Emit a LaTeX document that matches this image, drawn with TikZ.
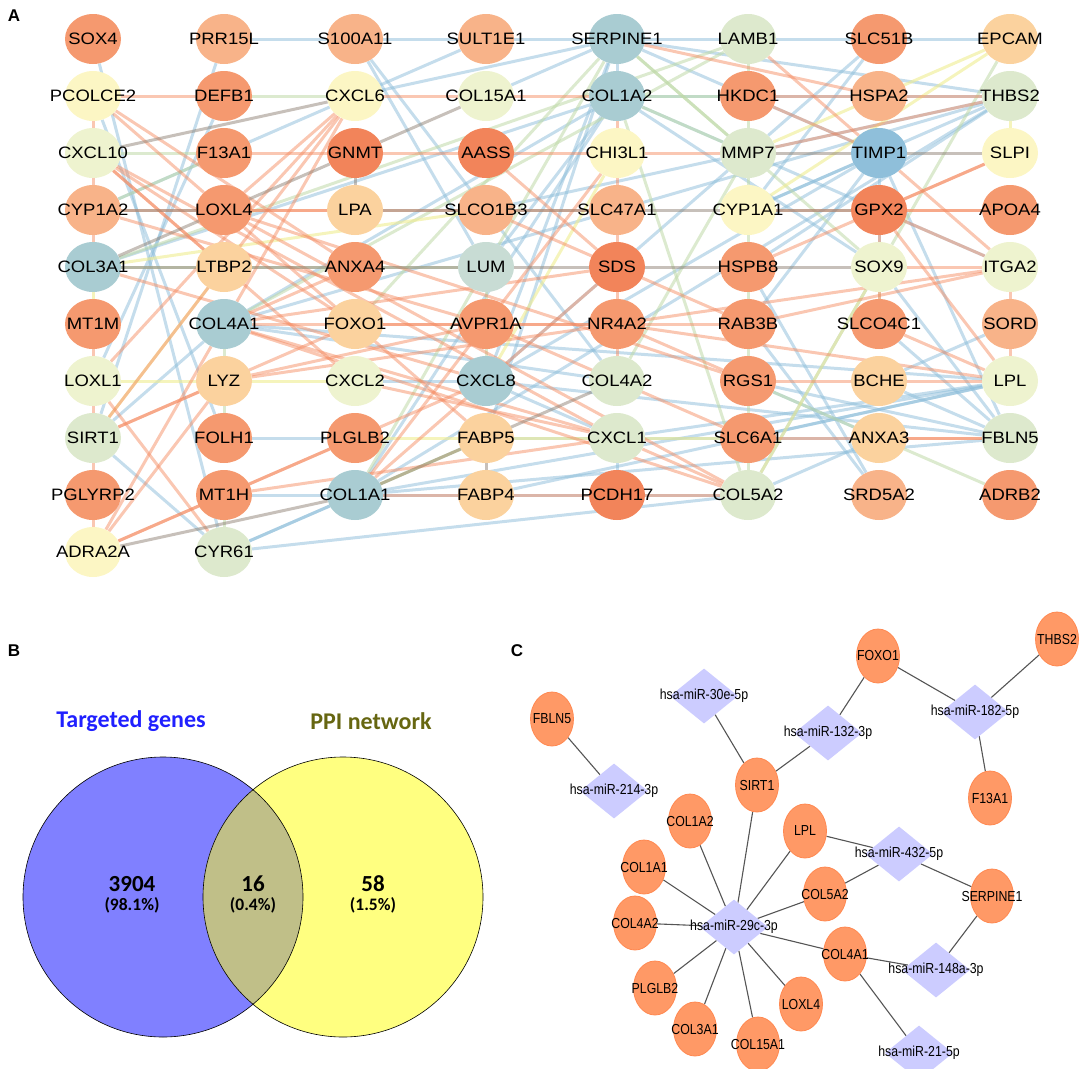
\documentclass[tikz,border=0pt]{standalone}
\usepackage{fontspec}
\setmainfont{Liberation Sans}
\newfontfamily\netfont[FakeStretch=1.12]{Liberation Sans}
\newfontfamily\mirfont[FakeStretch=0.85]{Liberation Sans}
\newfontfamily\vennfont{Carlito}
\usetikzlibrary{shapes.geometric,backgrounds}

% Colores de los nodos
\definecolor{naoscuro}{HTML}{F2845A}
\definecolor{naranja}{HTML}{F5996F}
\definecolor{naclaro}{HTML}{F8B389}
\definecolor{melocoton}{HTML}{FBD29E}
\definecolor{amarillo}{HTML}{FCF6C4}
\definecolor{verdeam}{HTML}{EEF3CF}
\definecolor{verde}{HTML}{DDE9CD}
\definecolor{gristeal}{HTML}{C8DCD4}
\definecolor{teal}{HTML}{A9CCD2}
\definecolor{azul}{HTML}{8FBFDA}
% Colores de las aristas
\definecolor{lnaranja}{HTML}{F4895F}
\definecolor{lazul}{HTML}{8BBCD9}
\definecolor{lverde}{HTML}{BFD9A8}
\definecolor{lamarillo}{HTML}{EFEC90}
\definecolor{lgris}{HTML}{8F8275}
% Panel B y C
\definecolor{vazul}{HTML}{8080FF}
\definecolor{vamarillo}{HTML}{FFFF80}
\definecolor{vlente}{HTML}{C0BF88}
\definecolor{txtazul}{HTML}{2020FF}
\definecolor{txtoliva}{HTML}{666611}
\definecolor{cnaranja}{HTML}{FF9966}
\definecolor{cborde}{HTML}{FF8850}
\definecolor{lila}{HTML}{CCCCFF}
\definecolor{enlacegris}{HTML}{555555}

\tikzset{
  gen/.style={ellipse, minimum width=56pt, minimum height=50pt, inner sep=0pt},
  gentxt/.style={font=\netfont\fontsize{16.5}{16.5}\selectfont, inner sep=0pt},
  lnor/.style={line width=3pt, draw=lnaranja, opacity=0.48},
  lnbl/.style={line width=3pt, draw=lazul, opacity=0.5},
  lngr/.style={line width=3pt, draw=lverde, opacity=0.55},
  lnye/.style={line width=3pt, draw=lamarillo, opacity=0.6},
  lngy/.style={line width=3pt, draw=lgris, opacity=0.5},
  gendos/.style={ellipse, minimum width=43pt, minimum height=54pt, inner sep=0pt,
    fill=cnaranja, draw=cborde, line width=0.8pt},
  mir/.style={diamond, minimum width=68pt, minimum height=55pt, inner sep=0pt, fill=lila},
  mirtxt/.style={font=\mirfont\fontsize{14.5}{14.5}\selectfont, inner sep=0pt},
  enlace/.style={draw=enlacegris, line width=1.1pt},
  panel/.style={font=\bfseries\fontsize{17}{17}\selectfont},
  vtitulo/.style={font=\vennfont\bfseries\fontsize{24}{24}\selectfont, inner sep=0pt},
  vnum/.style={font=\vennfont\bfseries\fontsize{23}{23}\selectfont, inner sep=0pt},
  vpct/.style={font=\vennfont\bfseries\fontsize{17.5}{17.5}\selectfont, inner sep=0pt},
}

\begin{document}
\begin{tikzpicture}[x=1pt, y=-1pt]

    \useasboundingbox (0,0) rectangle (1084,1068);

    % Etiquetas de los paneles
    \node[panel] (pA) at (14,16) {A};
    \node[panel] (pB) at (14,651) {B};
    \node[panel] (pC) at (517,651) {C};

    % Panel A: nodos por columna
    \foreach \g/\c [count=\r from 0] in {SOX4/naranja, PCOLCE2/amarillo, CXCL10/verdeam, CYP1A2/naclaro,
        COL3A1/teal, MT1M/naranja, LOXL1/verdeam, SIRT1/verde, PGLYRP2/naranja, ADRA2A/amarillo}
      \node[gen, fill=\c, label={[gentxt]center:\g}] (\g) at (93,{39+57*\r}) {};
    \foreach \g/\c [count=\r from 0] in {PRR15L/naclaro, DEFB1/naranja, F13A1/naranja, LOXL4/naranja,
        LTBP2/melocoton, COL4A1/teal, LYZ/melocoton, FOLH1/naranja, MT1H/naranja, CYR61/verde}
      \node[gen, fill=\c, label={[gentxt]center:\g}] (\g) at (224,{39+57*\r}) {};
    \foreach \g/\c [count=\r from 0] in {S100A11/naclaro, CXCL6/amarillo, GNMT/naoscuro, LPA/melocoton,
        ANXA4/naranja, FOXO1/melocoton, CXCL2/verdeam, PLGLB2/naranja, COL1A1/teal}
      \node[gen, fill=\c, label={[gentxt]center:\g}] (\g) at (355,{39+57*\r}) {};
    \foreach \g/\c [count=\r from 0] in {SULT1E1/naclaro, COL15A1/verdeam, AASS/naoscuro, SLCO1B3/naclaro,
        LUM/gristeal, AVPR1A/naranja, CXCL8/teal, FABP5/melocoton, FABP4/melocoton}
      \node[gen, fill=\c, label={[gentxt]center:\g}] (\g) at (486,{39+57*\r}) {};
    \foreach \g/\c [count=\r from 0] in {SERPINE1/teal, COL1A2/teal, CHI3L1/amarillo, SLC47A1/naclaro,
        SDS/naoscuro, NR4A2/naranja, COL4A2/verde, CXCL1/verde, PCDH17/naoscuro}
      \node[gen, fill=\c, label={[gentxt]center:\g}] (\g) at (617,{39+57*\r}) {};
    \foreach \g/\c [count=\r from 0] in {LAMB1/verde, HKDC1/naranja, MMP7/verde, CYP1A1/amarillo,
        HSPB8/naranja, RAB3B/naranja, RGS1/naranja, SLC6A1/naranja, COL5A2/verde}
      \node[gen, fill=\c, label={[gentxt]center:\g}] (\g) at (748,{39+57*\r}) {};
    \foreach \g/\c [count=\r from 0] in {SLC51B/naranja, HSPA2/naclaro, TIMP1/azul, GPX2/naoscuro,
        SOX9/verdeam, SLCO4C1/naranja, BCHE/melocoton, ANXA3/melocoton, SRD5A2/naclaro}
      \node[gen, fill=\c, label={[gentxt]center:\g}] (\g) at (879,{39+57*\r}) {};
    \foreach \g/\c [count=\r from 0] in {EPCAM/melocoton, THBS2/verde, SLPI/amarillo, APOA4/naranja,
        ITGA2/verdeam, SORD/naclaro, LPL/verdeam, FBLN5/verde, ADRB2/naranja}
      \node[gen, fill=\c, label={[gentxt]center:\g}] (\g) at (1010,{39+57*\r}) {};

    % Panel A: aristas
    \begin{scope}[on background layer]
    \foreach \a/\b in {SULT1E1/CXCL6, SLC51B/MMP7, SLC51B/CYP1A1, PRR15L/S100A11, S100A11/SULT1E1,
        SULT1E1/SERPINE1, SERPINE1/LAMB1, LAMB1/SLC51B, SLC51B/EPCAM, TIMP1/GPX2, GPX2/SOX9,
        SERPINE1/COL1A2, SOX4/CYR61, PRR15L/SIRT1, PCOLCE2/FOLH1, CYP1A2/CXCL6, DEFB1/LOXL1,
        S100A11/LUM, S100A11/COL4A2, COL1A2/LUM, SERPINE1/CXCL6, SERPINE1/COL15A1, SERPINE1/TIMP1,
        SERPINE1/THBS2, SERPINE1/CXCL8, SERPINE1/FABP5, COL1A2/COL3A1, COL1A2/COL1A1, COL1A2/COL4A1,
        COL1A2/THBS2, COL1A2/ITGA2, COL1A2/SOX9, COL4A1/COL4A2, CXCL8/CXCL1, CXCL8/CXCL2,
        CXCL8/TIMP1, CXCL8/MMP7, CXCL8/FBLN5, COL1A1/COL5A2, COL1A1/CYR61, COL1A1/FBLN5,
        COL1A1/THBS2, CYR61/COL5A2, CYR61/FABP5, CYR61/SIRT1, SIRT1/COL4A1, FOLH1/PLGLB2,
        MT1H/COL1A1, TIMP1/CYP1A1, TIMP1/RAB3B, TIMP1/FBLN5, THBS2/CYP1A1, THBS2/HSPB8,
        THBS2/MMP7, THBS2/COL4A1, SOX9/FBLN5, SOX9/COL5A2, SLCO4C1/FBLN5, BCHE/SORD, BCHE/FBLN5,
        RGS1/FBLN5, RGS1/ANXA3, SLC6A1/LPL, SLC6A1/ANXA3, SLC6A1/CXCL1, ANXA3/COL5A2,
        SRD5A2/HSPB8, SRD5A2/RAB3B, LPL/COL4A1, LPL/CXCL1, LPL/COL1A1, FABP5/CXCL1, FABP4/LPL,
        PCDH17/CXCL1, MMP7/SLCO1B3}
      \draw[lnbl] (\a) -- (\b);
    \foreach \a/\b in {DEFB1/CXCL6, COL1A2/HKDC1, CXCL10/F13A1, COL4A1/LYZ, LYZ/FOLH1, MT1H/CYR61,
        SOX9/SLCO4C1, LAMB1/HKDC1, HKDC1/MMP7, LUM/COL1A1, LUM/COL3A1, LUM/CXCL8, SERPINE1/MMP7,
        SERPINE1/SOX9, SERPINE1/LUM, COL1A2/COL5A2, COL1A2/MMP7, COL4A1/LAMB1, MMP7/CYP1A1,
        EPCAM/SOX9, ADRB2/RGS1, COL5A2/CYP1A1, LAMB1/COL3A1, MMP7/COL4A2, FOXO1/SERPINE1,
        CYP1A2/F13A1}
      \draw[lngr] (\a) -- (\b);
    \foreach \a/\b in {COL3A1/MT1M, COL3A1/SLCO1B3, SIRT1/LTBP2, EPCAM/MMP7, EPCAM/CYP1A1,
        COL5A2/SOX9, FABP5/COL1A1, THBS2/SLPI, CXCL2/LOXL1, CHI3L1/CXCL8, PLGLB2/SLC6A1}
      \draw[lnye] (\a) -- (\b);
    \foreach \a/\b in {PCOLCE2/DEFB1, CXCL6/COL15A1, COL15A1/COL1A2, HKDC1/HSPA2, HSPA2/THBS2,
        F13A1/GNMT, GNMT/AASS, AASS/CHI3L1, CHI3L1/MMP7, LOXL4/LPA, GPX2/APOA4, SOX9/ITGA2,
        COL1A1/FABP4, FABP4/PCDH17, PCDH17/COL5A2, PCOLCE2/CXCL10, CXCL10/CYP1A2, CYP1A2/COL3A1,
        MT1M/LOXL1, LOXL1/SIRT1, SIRT1/PGLYRP2, PGLYRP2/ADRA2A, COL1A2/CHI3L1, CHI3L1/SLC47A1,
        SLC47A1/SDS, SDS/NR4A2, NR4A2/COL4A2, ITGA2/SORD, SORD/LPL, PCOLCE2/LOXL4, PCOLCE2/ANXA4,
        CXCL10/LTBP2, CXCL10/FOXO1, CXCL10/CXCL2, COL3A1/CXCL8, LOXL4/CXCL6, LOXL4/FABP5,
        LOXL4/RGS1, CXCL6/LOXL1, CXCL6/SIRT1, CXCL6/COL4A1, COL4A1/RAB3B, COL4A1/CXCL1,
        COL4A1/SDS, COL4A1/ANXA4, CXCL1/CXCL2, CXCL1/CXCL10, CYR61/LOXL1, ADRA2A/LYZ,
        ADRA2A/PLGLB2, ADRA2A/COL4A1, ADRA2A/CXCL8, SIRT1/FOXO1, SIRT1/LYZ, MT1H/CXCL1,
        TIMP1/HKDC1, LAMB1/TIMP1, TIMP1/ITGA2, MMP7/THBS2, SLPI/HSPB8, SLPI/GPX2, APOA4/CYP1A1,
        GPX2/ITGA2, GPX2/SLCO4C1, GPX2/LPL, ITGA2/RAB3B, ITGA2/NR4A2, SLCO4C1/LPL, RGS1/LPL,
        SLC6A1/FBLN5, ANXA3/FBLN5, COL5A2/CXCL1, COL5A2/COL4A1, COL5A2/LOXL4, NR4A2/FOXO1,
        NR4A2/LYZ, NR4A2/RGS1, NR4A2/LPL, RAB3B/SLCO1B3, AVPR1A/LYZ, AVPR1A/CYP1A2,
        AVPR1A/SLC6A1, SDS/AASS, SDS/COL1A1, SLC47A1/CYP1A2, CHI3L1/COL1A1, SERPINE1/HSPA2}
      \draw[lnor] (\a) -- (\b);
    \foreach \a/\b in {MMP7/TIMP1, TIMP1/SLPI, CYP1A2/LOXL4, LPA/SLCO1B3, SLCO1B3/SLC47A1,
        SLC47A1/CYP1A1, CYP1A1/GPX2, COL3A1/LTBP2, LTBP2/ANXA4, ANXA4/LUM, LUM/SDS, SDS/HSPB8,
        HSPB8/SOX9, CXCL10/CXCL6, COL3A1/GNMT, COL1A1/ADRA2A, COL1A1/COL4A2, FABP5/FABP4,
        GNMT/COL15A1, GNMT/LPA}
      \draw[lngy] (\a) -- (\b);
    \end{scope}

    % Panel B: diagrama de Venn
    \fill[vazul] (163,897) circle (140pt);
    \fill[vamarillo] (343,897) circle (140pt);
    \begin{scope}
      \clip (163,897) circle (140pt);
      \fill[vlente] (343,897) circle (140pt);
    \end{scope}
    \draw[line width=0.6pt] (163,897) circle (140pt);
    \draw[line width=0.6pt] (343,897) circle (140pt);

    \node[vtitulo, text=txtazul] (tgenes) at (131,721) {Targeted genes};
    \node[vtitulo, text=txtoliva] (tppi) at (371,721) {PPI network};
    \foreach \n/\x/\v/\p in {nizq/132/3904/98.1\%, ncen/253/16/0.4\%, nder/373/58/1.5\%} {
      \node[vnum] (\n) at (\x,884) {\v};
      \node[vpct] (\n p) at (\x,905) {(\p)};
    }

    % Panel C: genes y miRNAs
    \foreach \n/\g/\x/\y in {cFOXO1/FOXO1/878/656, cTHBS2/THBS2/1057/639, cFBLN5/FBLN5/552/719,
        cSIRT1/SIRT1/757/785, cF13A1/F13A1/990/798, cCOL1A2/COL1A2/690/821, cLPL/LPL/805/831,
        cCOL1A1/COL1A1/644/867, cCOL5A2/COL5A2/825/894, cSERPINE1/SERPINE1/992/896,
        cCOL4A2/COL4A2/635/923, cCOL4A1/COL4A1/845/954, cPLGLB2/PLGLB2/655/988,
        cLOXL4/LOXL4/801/1004, cCOL3A1/COL3A1/695/1029, cCOL15A1/COL15A1/758/1044}
      \node[gendos, label={[mirtxt]center:\g}] (\n) at (\x,\y) {};
    \foreach \n/\g/\x/\y in {m30e/hsa-miR-30e-5p/704/696, m132/hsa-miR-132-3p/828/733,
        m182/hsa-miR-182-5p/975/712, m214/hsa-miR-214-3p/614/791, m432/hsa-miR-432-5p/899/854,
        m29c/hsa-miR-29c-3p/734/927, m148a/hsa-miR-148a-3p/936/970, m21/hsa-miR-21-5p/919/1053}
      \node[mir, label={[mirtxt]center:\g}] (\n) at (\x,\y) {};

    % Panel C: enlaces
    \begin{scope}[on background layer]
    \foreach \a/\b in {cFBLN5/m214, m30e/cSIRT1, cSIRT1/m132, m132/cFOXO1, cFOXO1/m182,
        m182/cTHBS2, m182/cF13A1, cSIRT1/m29c, cCOL1A2/m29c, cCOL1A1/m29c, cCOL4A2/m29c,
        cPLGLB2/m29c, cCOL3A1/m29c, cCOL15A1/m29c, cLOXL4/m29c, cCOL4A1/m29c, cCOL5A2/m29c,
        cLPL/m29c, cLPL/m432, cCOL5A2/m432, m432/cSERPINE1, cSERPINE1/m148a, cCOL4A1/m148a,
        cCOL4A1/m21}
      \draw[enlace] (\a) -- (\b);
    \end{scope}

  \end{tikzpicture}
\end{document}
